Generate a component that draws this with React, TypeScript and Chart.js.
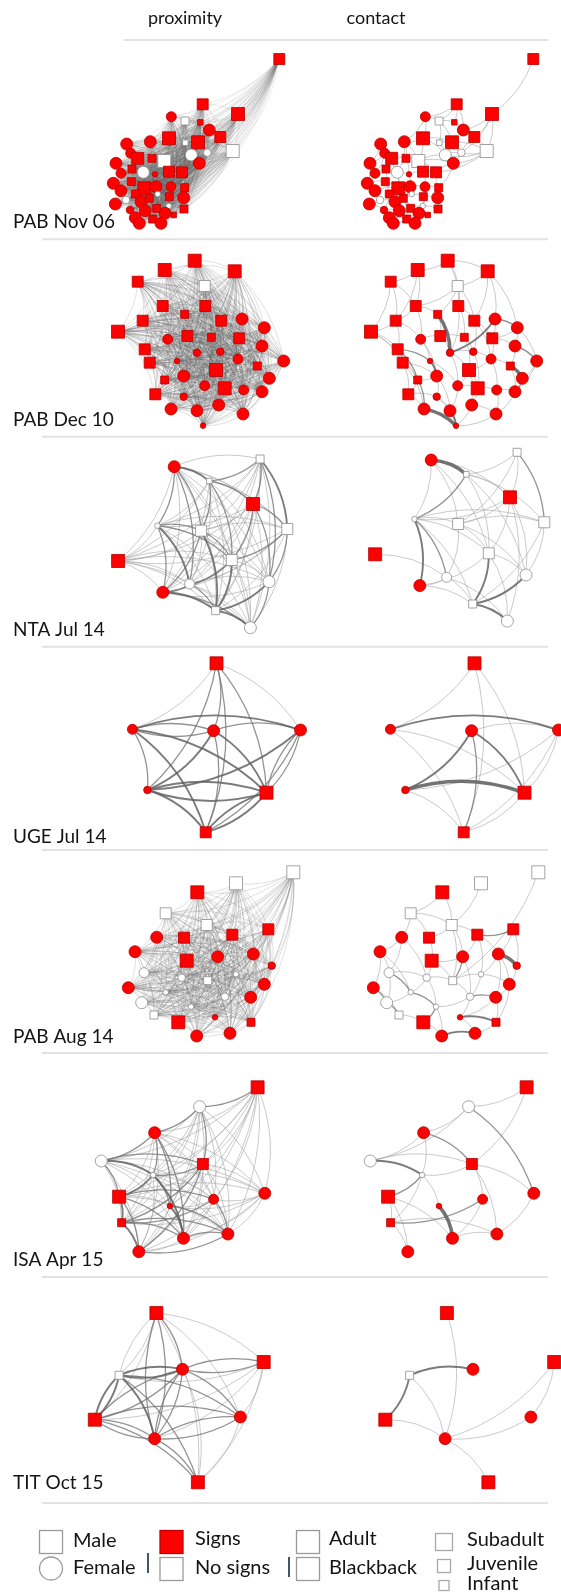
import { useEffect, useRef } from 'react';
import { Chart, registerables } from 'chart.js';

Chart.register(...registerables);

type Sex = 'M' | 'F';
type Age = 'A' | 'B' | 'S' | 'J' | 'I';
// x, y (layout position), sex, skin signs (1 = signs), age class
type Gorilla = [number, number, Sex, 0 | 1, Age];

// ---------- PAB Nov 06 ----------
const pabNov06Nodes: Gorilla[] = [
  [279.3, 59, 'M', 1, 'S'], [202.7, 104.3, 'M', 1, 'S'], [238, 114, 'M', 1, 'A'], [171.3, 116.7, 'F', 1, 'S'],
  [185, 121, 'M', 0, 'J'], [200.3, 122.3, 'M', 1, 'I'], [209.3, 130, 'F', 1, 'A'], [220.3, 137, 'M', 1, 'S'],
  [169, 138.3, 'M', 1, 'A'], [185.3, 142.7, 'M', 0, 'I'], [198, 142.3, 'M', 1, 'A'], [232.7, 151, 'M', 0, 'A'],
  [126.7, 144, 'F', 1, 'A'], [150.3, 141.7, 'F', 1, 'A'], [191.3, 155, 'F', 0, 'A'], [207.3, 152.7, 'F', 0, 'J'],
  [199.3, 163.3, 'F', 1, 'A'], [130.7, 153.3, 'F', 1, 'S'], [137.7, 158.3, 'M', 1, 'B'], [152, 158.3, 'M', 1, 'J'],
  [164.3, 161, 'M', 0, 'A'], [116, 163.3, 'F', 1, 'A'], [143.3, 172.3, 'F', 0, 'A'], [121, 173.3, 'F', 1, 'S'],
  [132, 169, 'M', 1, 'J'], [155, 174.3, 'F', 1, 'I'], [169, 171.7, 'M', 1, 'S'], [182, 172.3, 'M', 1, 'S'],
  [113.3, 183.3, 'F', 1, 'A'], [131.3, 181.7, 'M', 1, 'J'], [121, 190.7, 'F', 1, 'A'], [144.3, 188.3, 'M', 1, 'A'],
  [156, 186.7, 'F', 1, 'A'], [171, 186.7, 'F', 1, 'S'], [184.7, 187.7, 'M', 1, 'J'], [135.3, 194, 'M', 1, 'J'],
  [157.7, 194, 'F', 0, 'I'], [169.3, 196.7, 'M', 1, 'J'], [126, 200, 'F', 0, 'J'], [115.3, 204, 'F', 1, 'A'],
  [141, 201.7, 'F', 1, 'A'], [149.3, 198.3, 'M', 1, 'J'], [183.7, 197.7, 'F', 1, 'A'], [130, 210, 'F', 1, 'J'],
  [145.3, 210.7, 'F', 1, 'A'], [156.7, 208.3, 'M', 1, 'J'], [168.7, 206, 'F', 0, 'I'], [184, 209, 'M', 1, 'J'],
  [135.3, 217.7, 'F', 1, 'A'], [152.7, 219, 'M', 1, 'J'], [165, 213.3, 'F', 1, 'A'], [173.7, 215, 'M', 1, 'I'],
  [139.3, 223.3, 'F', 1, 'A'], [161, 223.3, 'F', 1, 'A'],
];
const pabNov06Contact =
  '1-3 2-5 2-6 2-7 3-7 3-8 3-12 4-5 4-9 5-6 5-10 5-11 6-7 7-8 8-12 11-12 12-16 15-16 11-15 9-11 9-21 10-15 15-17 16-17 12-17 ' +
  '14-21 13-19 19-21 21-15 21-27 27-28 28-17 23-19 23-26 22-24 24-25 29-30 30-32 31-32 32-33 33-34 34-35 35-28 36-37 37-38 ' +
  '38-43 39-40 39-41 41-42 42-46 44-45 45-46 46-47 47-48 49-50 50-51 51-52 53-54 53-49 54-51 41-45 31-39 22-29 13-22 18-24 ' +
  '26-33 27-34 32-41 36-44 37-42 40-44 45-49 43-48 35-43 20-26 14-20 9-14 21-28 23-32 29-31 30-36 33-37 34-38 42-50 45-53 ' +
  '46-51 2-4 4-14 12-28 17-35 10-11 16-8 12-15 3-16 9-15 21-17 23-41 25-30 32-36 33-42 38-47 34-47 26-27 14-23 19-25 18-22 13-18';

// ---------- PAB Dec 10 ----------
const pabDec10Nodes: Gorilla[] = [
  [194.7, 260.7, 'M', 1, 'A'], [164.7, 270, 'M', 1, 'A'], [234.7, 271.3, 'M', 1, 'A'], [137.7, 281.7, 'M', 1, 'S'],
  [204.7, 286, 'M', 0, 'S'], [162.7, 306, 'M', 1, 'S'], [205.3, 306, 'M', 1, 'S'], [142.7, 320.7, 'M', 1, 'S'],
  [184.7, 314.3, 'M', 1, 'J'], [221.3, 320.7, 'M', 1, 'S'], [242, 319, 'F', 1, 'A'], [118, 331.7, 'M', 1, 'A'],
  [264.3, 327.7, 'F', 1, 'A'], [167.7, 339.3, 'F', 1, 'S'], [187.3, 336, 'M', 1, 'S'], [211.3, 337.3, 'M', 1, 'J'],
  [239.3, 338.3, 'M', 1, 'S'], [262, 346, 'F', 1, 'A'], [144.7, 349.3, 'M', 1, 'S'], [197, 352.7, 'F', 1, 'J'],
  [220.3, 351.7, 'F', 1, 'J'], [238, 359, 'F', 1, 'S'], [283.7, 361, 'F', 1, 'A'], [149.7, 362.7, 'M', 1, 'S'],
  [177, 361, 'F', 1, 'I'], [216, 370, 'M', 1, 'A'], [257.3, 366, 'M', 1, 'J'], [183.7, 376, 'F', 1, 'A'],
  [269.3, 378.3, 'F', 1, 'A'], [164.7, 380, 'M', 1, 'J'], [204.7, 385.7, 'F', 1, 'S'], [224.7, 388.3, 'M', 1, 'A'],
  [243.7, 390, 'F', 1, 'S'], [262, 391.7, 'F', 1, 'A'], [155.3, 394.3, 'M', 1, 'S'], [183.7, 396.7, 'F', 1, 'J'],
  [171, 409, 'F', 1, 'A'], [197, 410.7, 'F', 1, 'A'], [218.7, 405, 'F', 1, 'A'], [243, 414, 'F', 1, 'A'],
  [203, 425.7, 'F', 1, 'I'],
];
const pabDec10Contact =
  '1-2 1-3 1-5 1-7 2-4 2-6 3-5 3-10 3-11 4-8 4-12 4-6 5-6 5-7 5-9 5-10 6-9 6-14 7-10 7-16 8-12 8-19 8-14 9-20:4 9-15 10-17 ' +
  '10-21 11-20:3 11-13:2 11-17 12-19 12-24 13-18 13-23 14-15 14-25 15-16 16-21 17-22 17-18 18-23:2 18-27 19-24 19-25:2 ' +
  '20-21 20-26 21-22 22-26 22-33 23-29 24-30 24-28 25-28:3 25-31 26-32 26-31 27-29:4 27-34 28-36 28-30 29-34:2 30-35 ' +
  '30-37:2 31-38 31-32 32-33 32-39 33-34 33-40 34-40 35-37 35-36 36-38 37-41:4 38-41:3 39-40 39-41 40-41 36-41 24-35 ' +
  '13-17 2-8 3-13 12-30 23-34 16-26 20-31 14-28 6-8 15-20 21-32 22-27 7-20 10-22 26-39 28-38 19-30:2 24-37';

// ---------- NTA Jul 14 ----------
const ntaJul14Nodes: Gorilla[] = [
  [174.2, 466.7, 'F', 1, 'A'], [260.1, 459, 'M', 0, 'J'], [209.3, 481, 'M', 0, 'I'], [253, 504, 'M', 1, 'A'],
  [157.4, 525.7, 'F', 0, 'I'], [201.1, 530.7, 'M', 0, 'S'], [287.3, 529, 'M', 0, 'S'], [118.1, 561, 'M', 1, 'A'],
  [231.8, 560, 'M', 0, 'S'], [189.6, 584, 'F', 0, 'S'], [269, 581.7, 'F', 0, 'A'], [162.8, 592.3, 'F', 1, 'A'],
  [215.7, 610.7, 'M', 0, 'J'], [250.4, 627.7, 'F', 0, 'A'],
];
const ntaJul14Proximity =
  '1-3:3 1-6:2 1-5:2 1-10:2 3-6:2 3-4:2 3-9:2 2-3:2 2-7:3 2-4:2 2-11:2 5-6:2 5-10:3 5-12:2 5-9:2 6-9:2 6-13:3 6-12:2 ' +
  '9-13:3 9-10:2 10-12:2 10-13:2 12-13:3 9-12:2 11-13:3 11-14:2 13-14:3 7-11:2 7-9:2 4-9:2 4-11:2 4-7:2 12-14:2';
const ntaJul14Contact =
  '1-3:4 2-3 3-5:2 3-7 1-5 1-6 1-9 5-6 5-12:3 5-10:2 5-9 5-13 6-10 6-9 6-7 4-6 9-13:3 13-14:3 11-13:3 2-7:2 7-11 4-5 4-9 ' +
  '4-11 4-14 8-10 10-12 10-13 9-11 2-6 3-9 9-14 12-13 6-11 10-14 3-4 2-4 1-4 7-13 9-12 5-7 3-11';

// ---------- UGE Jul 14 ----------
const ugeJul14Nodes: Gorilla[] = [
  [216.5, 663.3, 'M', 1, 'A'], [132.4, 729.3, 'F', 1, 'S'], [213.6, 730.7, 'F', 1, 'A'], [300.5, 730, 'F', 1, 'A'],
  [147.4, 790, 'F', 1, 'J'], [266.5, 792.7, 'M', 1, 'A'], [205.7, 832.3, 'M', 1, 'S'],
];
const ugeJul14Proximity =
  '1-2 1-3:2 1-4 1-5:2 1-6:2 1-7:2 2=3:2 2-4:3 2-5:2 2-6:3 2-7:3 3-4:2 3-5:3 3-6:3 3-7:2 4-5:3 4=6:2 4-7:2 5=6:3 5-7:3 6=7:3';
const ugeJul14Contact = '2-4:3 5-6:4 3-5:3 3-6:3 3-7:2 1-2 1-7 1-6 2-6 2-7 4-5 4-6 4-7 3-4 5-7 6-7';

// ---------- PAB Aug 14 ----------
const pabAug14Nodes: Gorilla[] = [
  [293.3, 872.3, 'M', 0, 'A'], [236, 883.3, 'M', 0, 'A'], [197.3, 892.3, 'M', 1, 'A'], [165.7, 913.3, 'M', 0, 'S'],
  [206.7, 925, 'M', 0, 'S'], [268.3, 929.3, 'M', 1, 'S'], [156.7, 937.3, 'F', 1, 'A'], [184, 937.7, 'M', 1, 'S'],
  [232.3, 934.7, 'M', 1, 'S'], [135, 951.7, 'F', 1, 'A'], [217.7, 956.7, 'F', 1, 'A'], [253.3, 954, 'F', 1, 'A'],
  [186.7, 960.7, 'M', 1, 'A'], [271.7, 965.7, 'F', 1, 'J'], [144, 972.7, 'F', 0, 'S'], [181.7, 977.7, 'F', 0, 'J'],
  [207.7, 980.7, 'M', 0, 'J'], [236, 974.3, 'F', 0, 'I'], [128.3, 987.7, 'F', 1, 'A'], [264.3, 984.3, 'F', 1, 'A'],
  [165.7, 992.3, 'F', 0, 'I'], [225, 996.7, 'F', 0, 'J'], [250.7, 997.3, 'F', 1, 'A'], [141.7, 1002.7, 'F', 0, 'A'],
  [191, 1006.7, 'F', 0, 'I'], [154, 1015, 'M', 0, 'J'], [178.3, 1022.3, 'M', 1, 'A'], [215, 1017.3, 'F', 1, 'I'],
  [251, 1022.3, 'M', 1, 'J'], [196.7, 1036, 'F', 1, 'A'], [230, 1033.3, 'F', 1, 'A'],
];
const pabAug14Contact =
  '1-17 3-4 4-5 4-7 4-8 5-9 5-8 5-11 6-9:2 6-12 9-12 9-11 7-10 7-15 10-15 10-19 15-21:2 15-24 19-24:2 21-24 21-25:2 16-21 ' +
  '13-16 11-13 11-17:2 17-18 12-18 12-14:4 18-20 18-22 22-23:2 20-23 14-20 22-25 25-27:2 24-26:2 26-27 27-30 28-29:3 ' +
  '30-31:3 29-31 23-28 22-28 16-25 2-5 8-13 9-18 11-22 12-20 17-22 16-17 19-26 15-16 5-17 7-16 10-21 23-29 20-29 25-30 ' +
  '28-31 13-17 3-5 12-23 6-14';

// ---------- ISA Apr 15 ----------
const isaApr15Nodes: Gorilla[] = [
  [257.6, 1087.3, 'M', 1, 'A'], [199.6, 1106.7, 'F', 0, 'A'], [154.6, 1132.7, 'F', 1, 'A'], [101.3, 1161, 'F', 0, 'A'],
  [202.9, 1164, 'M', 1, 'S'], [153.1, 1175, 'F', 0, 'I'], [119.1, 1196.7, 'M', 1, 'A'], [264.8, 1193.3, 'F', 1, 'A'],
  [213.6, 1199.3, 'F', 1, 'S'], [169.9, 1206, 'F', 1, 'I'], [121.6, 1222.7, 'M', 1, 'J'], [183.5, 1238.3, 'F', 1, 'A'],
  [227.9, 1234, 'F', 1, 'A'], [138.8, 1251.7, 'F', 1, 'A'],
];
const isaApr15Proximity =
  '2-3:2 3-4:2 4-6:3 4-7:2 6-7:3 6-10:2 6-12:3 7-11:3 7-12:2 7-14:2 11-14:3 11-12:2 11-13:2 10-12:3 10-13:2 9-11:2 ' +
  '7-9:2 3-6:2 3-10:2 3-12:2 5-6:2 5-11:2 5-14:2 12-13:2 13-14:2 9-13:2 4-5:2 1-2:2 2-5:2';
const isaApr15Contact =
  '1-2 2-3 2-8:2 2-4 3-5:2 3-4 4-5 4-6:3 6-7:2 10-12:4 9-11:2 5-8 5-13 5-6 6-11 3-6 7-12 11-14 12-13 8-13 7-14 6-10 ' +
  '7-11 1-5 9-12 11-13 5-9';

// ---------- TIT Oct 15 ----------
const titOct15Nodes: Gorilla[] = [
  [156.4, 1313, 'M', 1, 'A'], [263.7, 1362, 'M', 1, 'A'], [119.1, 1375.3, 'M', 0, 'J'], [182.5, 1369.3, 'F', 1, 'A'],
  [94.8, 1419.7, 'M', 1, 'A'], [240.4, 1417, 'F', 1, 'A'], [154.6, 1438.7, 'F', 1, 'A'], [197.9, 1482.3, 'M', 1, 'A'],
];
const titOct15Proximity =
  '1=3 1-4:2 1-5 1=7:2 1-8 1-2 1-6 2=4:2 2-6 2-7 2-8 2-5 2-3 3=4:3 3=5:3 3-6:2 3-7:3 3-8:2 4=5:2 4-6:2 4=7:2 4-8 ' +
  '5-6:2 5=7:2 5-8:2 6=7:2 6-8 7-8:2';
const titOct15Contact = '3-4:3 3-5:3 3-7 1-7 2-7 6-7 2-6 5-7 7-8';

// ---------- page texts ----------
const columnTitles = ['proximity', 'contact'];
const groupLabels = ['PAB Nov 06', 'PAB Dec 10', 'NTA Jul 14', 'UGE Jul 14', 'PAB Aug 14', 'ISA Apr 15', 'TIT Oct 15'];
const sexLegend = ['Male', 'Female'];
const signLegend = ['Signs', 'No signs'];
const ageLegendLarge = ['Adult', 'Blackback'];
const ageLegendSmall = ['Subadult', 'Juvenile', 'Infant'];

type EdgeSpec = { complete: boolean; list: string };
interface Group { nodes: Gorilla[]; proximity: EdgeSpec; contact: EdgeSpec }

const groups: Group[] = [
  { nodes: pabNov06Nodes, proximity: { complete: true, list: '' }, contact: { complete: false, list: pabNov06Contact } },
  { nodes: pabDec10Nodes, proximity: { complete: true, list: '' }, contact: { complete: false, list: pabDec10Contact } },
  { nodes: ntaJul14Nodes, proximity: { complete: true, list: ntaJul14Proximity }, contact: { complete: false, list: ntaJul14Contact } },
  { nodes: ugeJul14Nodes, proximity: { complete: false, list: ugeJul14Proximity }, contact: { complete: false, list: ugeJul14Contact } },
  { nodes: pabAug14Nodes, proximity: { complete: true, list: '' }, contact: { complete: false, list: pabAug14Contact } },
  { nodes: isaApr15Nodes, proximity: { complete: true, list: isaApr15Proximity }, contact: { complete: false, list: isaApr15Contact } },
  { nodes: titOct15Nodes, proximity: { complete: false, list: titOct15Proximity }, contact: { complete: false, list: titOct15Contact } },
];

// ---------- layout & style ----------
const PANEL_LAYOUT = [
  { contactDx: 254, contactDy: 0, labelY: 222, denseAlpha: 0.17, baseWeight: 0 },
  { contactDx: 253, contactDy: 0, labelY: 420, denseAlpha: 0.27, baseWeight: 0 },
  { contactDx: 257, contactDy: -6.7, labelY: 630, denseAlpha: 0, baseWeight: 1 },
  { contactDx: 258, contactDy: 0, labelY: 837, denseAlpha: 0, baseWeight: 1 },
  { contactDx: 245, contactDy: 0, labelY: 1037, denseAlpha: 0.27, baseWeight: 0 },
  { contactDx: 269, contactDy: 0, labelY: 1260, denseAlpha: 0, baseWeight: 1 },
  { contactDx: 290.5, contactDy: 0, labelY: 1483, denseAlpha: 0, baseWeight: 1 },
];
const SEPARATORS_Y = [40, 239.3, 436.7, 646.7, 850, 1053, 1277, 1503];
const SQUARE_SIDE: Record<Age, number> = { A: 13, B: 12, S: 11, J: 8, I: 5.5 };
const CIRCLE_DIAM: Record<Age, number> = { A: 12, B: 11.5, S: 10, J: 7.5, I: 5.5 };
const RED = '#ff0000';
const FONT = 'Lato, "Open Sans", sans-serif';

const EDGE_STYLE: Record<number, { color: string; width: number }> = {
  1: { color: 'rgba(165,165,165,0.65)', width: 0.9 },
  2: { color: 'rgba(120,120,120,0.8)', width: 1.3 },
  3: { color: 'rgba(100,100,100,0.85)', width: 1.9 },
  4: { color: 'rgba(100,100,100,0.9)', width: 3.6 },
};

type Edge = { a: number; b: number; w: number; dbl: boolean };

function parseEdges(list: string): Edge[] {
  const s = list.trim();
  if (!s) return [];
  return s.split(/\s+/).map((tok) => {
    const [pair, w] = tok.split(':');
    const dbl = pair.includes('=');
    const [a, b] = pair.split(/[-=]/).map(Number);
    return { a: a - 1, b: b - 1, w: w ? Number(w) : 1, dbl };
  });
}

function buildEdges(spec: EdgeSpec, n: number, baseWeight: number): Edge[] {
  const listed = parseEdges(spec.list);
  if (!spec.complete) return listed;
  const key = (a: number, b: number) => (a < b ? `${a}_${b}` : `${b}_${a}`);
  const map = new Map<string, Edge>();
  for (let i = 0; i < n; i++) for (let j = i + 1; j < n; j++) map.set(key(i, j), { a: i, b: j, w: baseWeight, dbl: false });
  listed.forEach((e) => map.set(key(e.a, e.b), e));
  return Array.from(map.values());
}

const networkPlugin = {
  id: 'gorillaNetworks',
  beforeDatasetsDraw(chart: any) {
    const { ctx } = chart;
    const sx = chart.scales.x;
    const sy = chart.scales.y;
    ctx.save();
    // row separators
    ctx.strokeStyle = '#e2e2e2';
    ctx.lineWidth = 2;
    SEPARATORS_Y.forEach((y, i) => {
      ctx.beginPath();
      ctx.moveTo(sx.getPixelForValue(i === 0 ? 124 : 42), sy.getPixelForValue(y));
      ctx.lineTo(sx.getPixelForValue(548), sy.getPixelForValue(y));
      ctx.stroke();
    });
    // edges
    ctx.lineCap = 'round';
    groups.forEach((g, gi) => {
      const lay = PANEL_LAYOUT[gi];
      const panels: [EdgeSpec, number, number][] = [
        [g.proximity, 0, 0],
        [g.contact, lay.contactDx, lay.contactDy],
      ];
      panels.forEach(([spec, dx, dy]) => {
        const edges = buildEdges(spec, g.nodes.length, lay.baseWeight).sort((p, q) => p.w - q.w);
        edges.forEach((e) => {
          const p = g.nodes[e.a];
          const q = g.nodes[e.b];
          const x1 = sx.getPixelForValue(p[0] + dx);
          const y1 = sy.getPixelForValue(p[1] + dy);
          const x2 = sx.getPixelForValue(q[0] + dx);
          const y2 = sy.getPixelForValue(q[1] + dy);
          if (e.w === 0) {
            ctx.strokeStyle = `rgba(95,95,95,${lay.denseAlpha})`;
            ctx.lineWidth = 0.7;
          } else {
            ctx.strokeStyle = EDGE_STYLE[e.w].color;
            ctx.lineWidth = EDGE_STYLE[e.w].width;
          }
          const bends = e.dbl ? [0.16, -0.16] : [0.17];
          bends.forEach((bend) => {
            const cx = (x1 + x2) / 2 + (y2 - y1) * bend;
            const cy = (y1 + y2) / 2 - (x2 - x1) * bend;
            ctx.beginPath();
            ctx.moveTo(x1, y1);
            ctx.quadraticCurveTo(cx, cy, x2, y2);
            ctx.stroke();
          });
        });
      });
    });
    ctx.restore();
  },
  afterDatasetsDraw(chart: any) {
    const { ctx } = chart;
    ctx.save();
    ctx.fillStyle = '#141414';
    ctx.textBaseline = 'middle';
    ctx.textAlign = 'center';
    ctx.font = `18px ${FONT}`;
    ctx.fillText(columnTitles[0], 185, 18);
    ctx.fillText(columnTitles[1], 376, 18);
    ctx.textAlign = 'left';
    ctx.font = `19px ${FONT}`;
    groupLabels.forEach((t, i) => ctx.fillText(t, 13, PANEL_LAYOUT[i].labelY));

    // legend
    const square = (cx: number, cy: number, s: number, fill: string, stroke: string) => {
      ctx.fillStyle = fill;
      ctx.fillRect(cx - s / 2, cy - s / 2, s, s);
      ctx.strokeStyle = stroke;
      ctx.lineWidth = 1.3;
      ctx.strokeRect(cx - s / 2, cy - s / 2, s, s);
    };
    square(51, 1542, 23, '#fff', '#9a9a9a');
    ctx.beginPath();
    ctx.arc(51, 1568.5, 11.5, 0, Math.PI * 2);
    ctx.fillStyle = '#fff';
    ctx.fill();
    ctx.strokeStyle = '#9a9a9a';
    ctx.stroke();
    square(171.5, 1542, 23, RED, '#c00000');
    square(171.5, 1569, 23, '#fff', '#9a9a9a');
    square(308, 1542, 23, '#fff', '#9a9a9a');
    square(308, 1569, 23, '#fff', '#9a9a9a');
    square(444, 1542, 17, '#fff', '#a8a8a8');
    square(444, 1566, 13, '#fff', '#a8a8a8');
    square(444, 1585.5, 10, '#fff', '#a8a8a8');

    ctx.strokeStyle = '#44546a';
    ctx.lineWidth = 2;
    ctx.beginPath();
    ctx.moveTo(148, 1553);
    ctx.lineTo(148, 1573);
    ctx.moveTo(289, 1557);
    ctx.lineTo(289, 1577);
    ctx.stroke();

    ctx.fillStyle = '#141414';
    ctx.font = `20px ${FONT}`;
    ctx.fillText(sexLegend[0], 73, 1541);
    ctx.fillText(sexLegend[1], 73, 1568);
    ctx.fillText(signLegend[0], 195, 1539);
    ctx.fillText(signLegend[1], 195, 1568);
    ctx.fillText(ageLegendLarge[0], 329, 1539);
    ctx.fillText(ageLegendLarge[1], 329, 1568);
    ctx.fillText(ageLegendSmall[0], 467, 1540);
    ctx.fillText(ageLegendSmall[1], 467, 1564);
    ctx.fillText(ageLegendSmall[2], 467, 1584);
    ctx.restore();
  },
};

function nodeDataset(nodes: Gorilla[], dx: number, dy: number) {
  return {
    data: nodes.map((n) => ({ x: n[0] + dx, y: n[1] + dy })),
    pointStyle: nodes.map((n) => (n[2] === 'M' ? 'rect' : 'circle')),
    pointRadius: nodes.map((n) => (n[2] === 'M' ? SQUARE_SIDE[n[4]] * Math.SQRT1_2 : CIRCLE_DIAM[n[4]] / 2)),
    pointBackgroundColor: nodes.map((n) => (n[3] ? RED : '#ffffff')),
    pointBorderColor: nodes.map((n) => (n[3] ? '#b80000' : '#8e8e8e')),
    pointBorderWidth: 0.8,
    showLine: false,
    clip: false,
  };
}

export default function App() {
  const canvasRef = useRef<HTMLCanvasElement | null>(null);

  useEffect(() => {
    const canvas = canvasRef.current;
    if (!canvas) return;
    const datasets: any[] = [];
    groups.forEach((g, gi) => {
      datasets.push(nodeDataset(g.nodes, 0, 0));
      datasets.push(nodeDataset(g.nodes, PANEL_LAYOUT[gi].contactDx, PANEL_LAYOUT[gi].contactDy));
    });
    const chart = new Chart(canvas, {
      type: 'scatter',
      data: { datasets },
      options: {
        responsive: false,
        maintainAspectRatio: false,
        animation: false,
        events: [],
        layout: { padding: 0, autoPadding: false },
        plugins: { legend: { display: false }, tooltip: { enabled: false } },
        scales: {
          x: { type: 'linear', min: 0, max: 561, display: false },
          y: { type: 'linear', min: 0, max: 1595, reverse: true, display: false },
        },
      },
      plugins: [networkPlugin],
    } as any);
    return () => chart.destroy();
  }, []);

  return (
    <div style={{ position: 'absolute', left: 0, top: 0, width: 561, height: 1595, background: '#fff' }}>
      <canvas ref={canvasRef} width={561} height={1595} style={{ width: 561, height: 1595, display: 'block' }} />
    </div>
  );
}
